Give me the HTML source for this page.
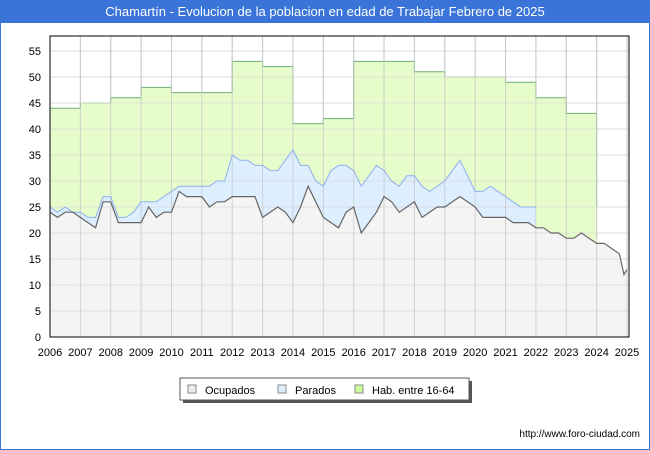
<!DOCTYPE html>
<html><head><meta charset="utf-8"><style>
body{margin:0;width:650px;height:450px;background:#fff;font-family:"Liberation Sans","DejaVu Sans",sans-serif;overflow:hidden}
#frame{position:absolute;left:0;top:0;width:648px;height:448px;border:1px solid #3a74d8}
#title{position:absolute;left:0;top:0;width:650px;height:23px;background:#3a74d8;color:#fff;font-size:13px;line-height:23px;text-align:center}
</style></head><body>
<div id="frame"></div>
<div id="title">Chamartín - Evolucion de la poblacion en edad de Trabajar Febrero de 2025</div>
<svg id="chart" width="650" height="450" style="position:absolute;left:0;top:0"></svg>
<script>
const years=[2006,2007,2008,2009,2010,2011,2012,2013,2014,2015,2016,2017,2018,2019,2020,2021,2022,2023,2024,2025];
const yTicks=[0,5,10,15,20,25,30,35,40,45,50,55];
const habYears=[2006,2007,2008,2009,2010,2011,2012,2013,2014,2015,2016,2017,2018,2019,2020,2021,2022,2023];
const habValues=[44,45,46,48,47,47,53,52,41,42,53,53,51,50,50,49,46,43];
const ocupTimes=[2006,2006.25,2006.5,2006.75,2007,2007.25,2007.5,2007.75,2008,2008.25,2008.5,2008.75,2009,2009.25,2009.5,2009.75,2010,2010.25,2010.5,2010.75,2011,2011.25,2011.5,2011.75,2012,2012.25,2012.5,2012.75,2013,2013.25,2013.5,2013.75,2014,2014.25,2014.5,2014.75,2015,2015.25,2015.5,2015.75,2016,2016.25,2016.5,2016.75,2017,2017.25,2017.5,2017.75,2018,2018.25,2018.5,2018.75,2019,2019.25,2019.5,2019.75,2020,2020.25,2020.5,2020.75,2021,2021.25,2021.5,2021.75,2022,2022.25,2022.5,2022.75,2023,2023.25,2023.5,2023.75,2024,2024.25,2024.5,2024.75,2024.9,2025];
const ocupValues=[24,23,24,24,23,22,21,26,26,22,22,22,22,25,23,24,24,28,27,27,27,25,26,26,27,27,27,27,23,24,25,24,22,25,29,26,23,22,21,24,25,20,22,24,27,26,24,25,26,23,24,25,25,26,27,26,25,23,23,23,23,22,22,22,21,21,20,20,19,19,20,19,18,18,17,16,12,13];
const actTimes=[2006,2006.25,2006.5,2006.75,2007,2007.25,2007.5,2007.75,2008,2008.25,2008.5,2008.75,2009,2009.25,2009.5,2009.75,2010,2010.25,2010.5,2010.75,2011,2011.25,2011.5,2011.75,2012,2012.25,2012.5,2012.75,2013,2013.25,2013.5,2013.75,2014,2014.25,2014.5,2014.75,2015,2015.25,2015.5,2015.75,2016,2016.25,2016.5,2016.75,2017,2017.25,2017.5,2017.75,2018,2018.25,2018.5,2018.75,2019,2019.25,2019.5,2019.75,2020,2020.25,2020.5,2020.75,2021,2021.25,2021.5,2021.75,2022];
const actValues=[25,24,25,24,24,23,23,27,27,23,23,24,26,26,26,27,28,29,29,29,29,29,30,30,35,34,34,33,33,32,32,34,36,33,33,30,29,32,33,33,32,29,31,33,32,30,29,31,31,29,28,29,30,32,34,31,28,28,29,28,27,26,25,25,25];
const svg=document.getElementById('chart');
const NS='http://www.w3.org/2000/svg';
const X0=50,X1=629,Y0=337,YT=36;
const xs=t=>X0+(t-2006)*(X1-2-X0)/19;
const ys=v=>Y0-v*5.2;
function mk(tag,attrs,parent){const e=document.createElementNS(NS,tag);for(const k in attrs)e.setAttribute(k,attrs[k]);(parent||svg).appendChild(e);return e;}
mk('rect',{x:X0,y:YT,width:X1-X0,height:Y0-YT,fill:'#fff'});
// grid
yTicks.forEach(v=>{const l=mk('line',{x1:X0,x2:X1,y1:ys(v),y2:ys(v),stroke:'#dddddd'});


const t=mk('text',{x:41,y:ys(v)+4,'text-anchor':'end','font-size':11,fill:'#000'});t.textContent=v;

});
years.forEach(yr=>{const l=mk('line',{x1:xs(yr),x2:xs(yr),y1:YT,y2:Y0,stroke:'#cccccc'});


const t=mk('text',{x:xs(yr),y:356,'text-anchor':'middle','font-size':11,fill:'#000'});t.textContent=yr;

});
// hab area (stepped)
let hp=[];habYears.forEach((yr,i)=>{hp.push([xs(yr),ys(habValues[i])]);hp.push([xs(yr+1),ys(habValues[i])]);});
const hpts=hp.map(p=>p.join(',')).join(' ');
const ha=mk('polygon',{points:`${xs(2006)},${Y0} ${hpts} ${xs(2024)},${Y0}`,fill:'#e6fccb',stroke:'none'});


const hl=mk('polyline',{points:`${hpts} ${xs(2024)},${ys(25)}`,fill:'none',stroke:'#6fae6f','stroke-width':1});


// active area
const apts=actTimes.map((t,i)=>xs(t)+','+ys(actValues[i])).join(' ');
const aa=mk('polygon',{points:`${xs(2006)},${Y0} ${apts} ${xs(2022)},${Y0}`,fill:'#ddeeff',stroke:'none'});


// ocupados area
const opts=ocupTimes.map((t,i)=>xs(t)+','+ys(ocupValues[i])).join(' ');
const oa=mk('polygon',{points:`${xs(2006)},${Y0} ${opts} ${xs(ocupTimes[ocupTimes.length-1])},${Y0}`,fill:'#f4f4f4',stroke:'none'});


// regrid over areas lightly
yTicks.forEach(v=>{const l=mk('line',{x1:X0,x2:X1,y1:ys(v),y2:ys(v),stroke:'#d8d8d8','stroke-opacity':0.7});

});
years.forEach(yr=>{const l=mk('line',{x1:xs(yr),x2:xs(yr),y1:YT,y2:Y0,stroke:'#c8c8c8','stroke-opacity':0.8});

});
const al=mk('polyline',{points:apts,fill:'none',stroke:'#8fb0ee','stroke-width':1});


const ol=mk('polyline',{points:opts,fill:'none',stroke:'#666','stroke-width':1.2});


const bx=mk('rect',{x:X0,y:YT,width:X1-X0,height:Y0-YT,fill:'none',stroke:'#000','stroke-width':1});


// legend
const lg=mk('g',{});


mk('rect',{x:183,y:381,width:289,height:22,fill:'#555'},lg);
mk('rect',{x:180,y:378,width:289,height:22,fill:'#fff',stroke:'#555'},lg);
[['Ocupados','#eeeeee',188],['Parados','#ddeeff',278],['Hab. entre 16-64','#ccff99',355]].forEach(([n,c,x])=>{
const r=mk('rect',{x:x,y:385,width:8,height:8,fill:c,stroke:'#888'},lg);


const t=mk('text',{x:x+17,y:394,'font-size':11,fill:'#000'},lg);t.textContent=n;

});
const u=mk('text',{x:640,y:437,'text-anchor':'end','font-size':10,fill:'#000'});u.textContent='http://www.foro-ciudad.com';


</script>
</body></html>
